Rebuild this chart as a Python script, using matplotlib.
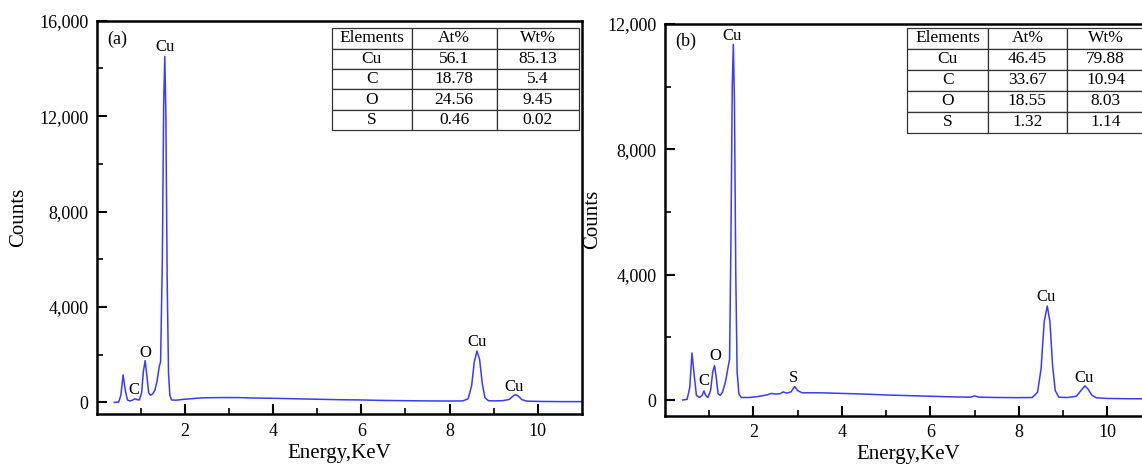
import matplotlib
matplotlib.use("Agg")
import matplotlib.pyplot as plt
from matplotlib.ticker import FixedLocator, MultipleLocator, StrMethodFormatter

plt.rcParams['font.family'] = ['Liberation Serif', 'DejaVu Serif']

# ---------------- data ----------------
energy_a = [0.40, 0.50, 0.55, 0.60, 0.65, 0.70, 0.75, 0.80, 0.85, 0.88, 0.92, 0.97,
            1.02, 1.06, 1.10, 1.14, 1.18, 1.22, 1.27, 1.32, 1.37, 1.42, 1.45, 1.49,
            1.52, 1.545, 1.57, 1.60, 1.63, 1.66, 1.70, 1.80, 2.0, 2.2, 2.4, 2.8,
            3.2, 3.6, 4.0, 4.5, 5.0, 5.5, 6.0, 6.5, 7.0, 7.5, 8.0, 8.3, 8.42, 8.5,
            8.56, 8.62, 8.68, 8.74, 8.80, 8.88, 9.0, 9.2, 9.35, 9.45, 9.50, 9.56,
            9.64, 9.75, 10.0, 10.5, 11.0]
counts_a = [0, 10, 300, 1150, 500, 100, 60, 80, 130, 150, 110, 100,
            400, 1300, 1750, 1100, 400, 300, 350, 500, 900, 1500, 1700, 6000,
            12500, 14500, 12000, 5000, 1200, 300, 100, 90, 130, 160, 190, 200,
            200, 180, 170, 150, 130, 110, 100, 80, 70, 60, 55, 60, 150, 700,
            1700, 2150, 1800, 800, 200, 70, 60, 70, 120, 280, 320, 260,
            110, 50, 40, 30, 30]

energy_b = [0.40, 0.50, 0.56, 0.61, 0.66, 0.71, 0.78, 0.84, 0.88, 0.92, 0.97, 1.03,
            1.08, 1.12, 1.16, 1.20, 1.25, 1.30, 1.37, 1.42, 1.46, 1.49, 1.52, 1.545,
            1.57, 1.60, 1.63, 1.67, 1.72, 1.9, 2.1, 2.3, 2.4, 2.5, 2.6, 2.67, 2.75,
            2.85, 2.93, 3.0, 3.1, 3.5, 4.0, 4.5, 5.0, 5.5, 6.0, 6.5, 6.9, 7.0, 7.1,
            7.5, 8.0, 8.3, 8.42, 8.5, 8.57, 8.64, 8.70, 8.76, 8.82, 8.9, 9.1, 9.3,
            9.4, 9.49, 9.56, 9.65, 9.75, 10.0, 10.5, 11.0]
counts_b = [0, 20, 400, 1500, 800, 150, 80, 150, 290, 150, 80, 300,
            900, 1100, 700, 200, 150, 250, 600, 1000, 1300, 5000, 10000, 11350,
            9500, 4000, 900, 200, 80, 80, 110, 160, 210, 190, 200, 260, 220,
            260, 430, 300, 230, 230, 210, 190, 160, 140, 120, 100, 90, 130, 90,
            80, 75, 80, 250, 1000, 2500, 3000, 2500, 1100, 300, 90, 80, 120,
            300, 450, 350, 150, 70, 50, 40, 40]

peak_labels_a = ["Cu", "O", "C", "Cu", "Cu"]
peak_x_a = [1.55, 1.10, 0.85, 8.63, 9.46]
peak_y_a = [14900, 2060, 530, 2520, 660]

peak_labels_b = ["Cu", "O", "C", "S", "Cu", "Cu"]
peak_x_b = [1.52, 1.14, 0.875, 2.91, 8.61, 9.48]
peak_y_b = [11630, 1390, 610, 715, 3300, 715]

table_cols = ["Elements", "At%", "Wt%"]
elements = ["Cu", "C", "O", "S"]
at_a = ["56.1", "18.78", "24.56", "0.46"]
wt_a = ["85.13", "5.4", "9.45", "0.02"]
at_b = ["46.45", "33.67", "18.55", "1.32"]
wt_b = ["79.88", "10.94", "8.03", "1.14"]

# ---------------- figure ----------------
fig = plt.figure(figsize=(11.42, 4.66), dpi=100)
ax_a = fig.add_axes([0.0846, 0.111, 0.4250, 0.8446])
ax_b = fig.add_axes([0.5823, 0.108, 0.4262, 0.8405])

line_color = '#3a3aff'


def style_axes(ax, ymax, ystep, ylabelpad):
    ax.set_xlim(0, 11)
    ax.set_ylim(-500, ymax)
    ax.xaxis.set_major_locator(FixedLocator([2, 4, 6, 8, 10]))
    ax.xaxis.set_minor_locator(FixedLocator([1, 3, 5, 7, 9]))
    ax.yaxis.set_major_locator(MultipleLocator(ystep))
    ax.yaxis.set_minor_locator(MultipleLocator(ystep / 2))
    ax.yaxis.set_major_formatter(StrMethodFormatter('{x:,.0f}'))
    ax.tick_params(which='major', direction='in', length=7, width=1.5,
                   labelsize=13, top=False, right=False, pad=6)
    ax.tick_params(which='minor', direction='in', length=4, width=1.2,
                   top=False, right=False)
    for s in ax.spines.values():
        s.set_linewidth(1.8)
    ax.set_xlabel('Energy,KeV', fontsize=15, labelpad=3)
    ax.set_ylabel('Counts', fontsize=15, labelpad=ylabelpad)


def add_table(ax, at, wt, bbox, col_widths):
    rows = [[e, a, w] for e, a, w in zip(elements, at, wt)]
    tb = ax.table(cellText=rows, colLabels=table_cols, cellLoc='center',
                  colWidths=col_widths, bbox=bbox)
    tb.auto_set_font_size(False)
    tb.set_fontsize(12.5)
    for cell in tb.get_celld().values():
        cell.set_linewidth(0.9)
        cell.set_edgecolor('#333333')
        cell.set_facecolor('white')
        cell.PAD = 0.02
    return tb


# panel (a)
ax_a.plot(energy_a, counts_a, color=line_color, lw=1.1)
style_axes(ax_a, 16000, 4000, 8)
ax_a.text(0.46, 15200, '(a)', fontsize=13, ha='center', va='center')
for lab, x, y in zip(peak_labels_a, peak_x_a, peak_y_a):
    ax_a.text(x, y, lab, fontsize=12, ha='center', va='center')
add_table(ax_a, at_a, wt_a, [0.484, 0.722, 0.510, 0.259], [0.165, 0.1745, 0.1695])

# panel (b)
ax_b.plot(energy_b, counts_b, color=line_color, lw=1.1)
style_axes(ax_b, 12000, 4000, 4)
ax_b.text(0.47, 11450, '(b)', fontsize=13, ha='center', va='center')
for lab, x, y in zip(peak_labels_b, peak_x_b, peak_y_b):
    ax_b.text(x, y, lab, fontsize=12, ha='center', va='center')
add_table(ax_b, at_b, wt_b, [0.498, 0.722, 0.488, 0.268], [0.166, 0.161, 0.161])

fig.savefig('out.png', dpi=100)
